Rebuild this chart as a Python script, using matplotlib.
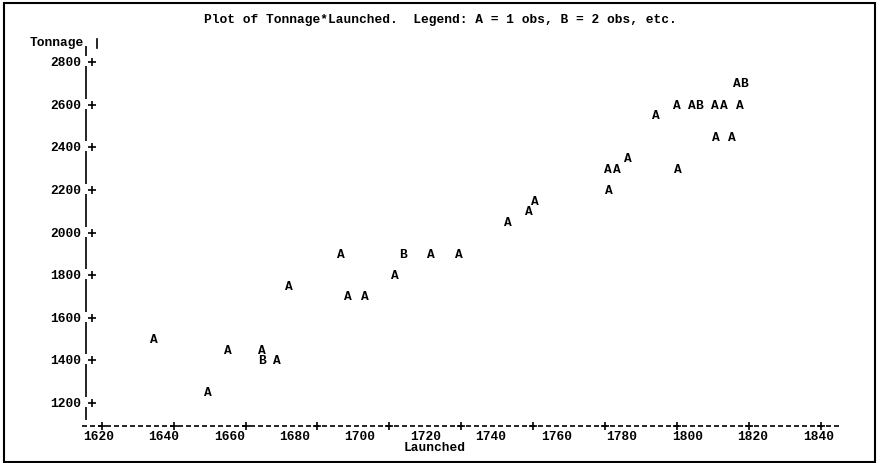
import numpy as np
import matplotlib
matplotlib.use('Agg')
import matplotlib.pyplot as plt
from matplotlib.patches import Rectangle

# Data (A = 1 obs, B = 2 obs)
launched = [1637.0, 1653.6, 1659.5, 1670.1, 1669.9, 1674.7, 1678.1, 1694.2,
            1696.4, 1701.5, 1710.7, 1713.0, 1721.7, 1730.3, 1745.2, 1751.6,
            1753.5, 1776.0, 1775.8, 1778.4, 1781.9, 1790.4, 1796.7, 1797.2,
            1801.3, 1803.7, 1808.5, 1811.1, 1816.1, 1815.1, 1817.3, 1808.6,
            1813.6]
tonnage = [1500, 1250, 1450, 1450, 1400, 1400, 1750, 1900,
           1700, 1700, 1800, 1900, 1900, 1900, 2050, 2100,
           2150, 2200, 2300, 2300, 2350, 2550, 2600, 2300,
           2600, 2600, 2600, 2600, 2600, 2700, 2700, 2450,
           2450]
symbol = ['A', 'A', 'A', 'A', 'B', 'A', 'A', 'A',
          'A', 'A', 'A', 'B', 'A', 'A', 'A', 'A',
          'A', 'A', 'A', 'A', 'A', 'A', 'A', 'A',
          'A', 'B', 'A', 'A', 'A', 'A', 'B', 'A',
          'A']

xticks = [1620, 1640, 1660, 1680, 1700, 1720, 1740, 1760, 1780, 1800, 1820, 1840]
yticks = [1200, 1400, 1600, 1800, 2000, 2200, 2400, 2600, 2800]

title = 'Plot of Tonnage*Launched.  Legend: A = 1 obs, B = 2 obs, etc.'

W, H = 881, 464
# pixel layout of the scales
PX_PER_YEAR = 3.2727
PX_PER_TON = 0.2131
X0_PX, X0_VAL = 98.3, 1620
Y0_PX, Y0_VAL = 404.0, 1200

def px_x(px):
    return X0_VAL + (px - X0_PX) / PX_PER_YEAR

def px_y(py):
    return Y0_VAL + (Y0_PX - py) / PX_PER_TON

font = dict(family='Liberation Mono', fontweight='bold', fontsize=9.3, color='black')

fig = plt.figure(figsize=(W / 100, H / 100), dpi=100)
ax = fig.add_axes([0, 0, 1, 1])
ax.set_xlim(px_x(0), px_x(W))
ax.set_ylim(px_y(H), px_y(0))
ax.axis('off')

# outer frame
fig.patches.append(Rectangle((3.7 / W, 1 - 462.5 / H), 871.0 / W, 458.8 / H,
                             transform=fig.transFigure, fill=False,
                             edgecolor='black', linewidth=1.5))

fig.text(440 / W, 1 - 20 / H, title, ha='center', va='center', **font)

# vertical axis: '|' column with gaps at tick rows
yax_x = px_x(85.7)
segs = [(px_y(47), yticks[-1] + 28)]
for lo, hi in zip(yticks[:-1], yticks[1:]):
    segs.append((hi - 19, lo + 28))
segs.append((yticks[0] - 19, px_y(421)))
for top, bot in segs:
    ax.plot([yax_x, yax_x], [bot, top], color='black', lw=1.2, solid_capstyle='butt')
ax.plot([px_x(97), px_x(97)], [px_y(49), px_y(40)], color='black', lw=1.2)
ax.plot([px_x(92.3)] * len(yticks), yticks, '+', color='black', ms=5.2, mew=1.2)
for t in yticks:
    ax.text(px_x(81.5), t, str(t), ha='right', va='center', **font)
ax.text(px_x(83.5), px_y(42.7), 'Tonnage', ha='right', va='center', **font)

# horizontal axis: dashed line with '+' ticks
xaxis_y = px_y(426.5)
ax.plot([px_x(82), px_x(840)], [xaxis_y, xaxis_y], color='black', lw=1.2,
        linestyle=(0, (3.0, 1.8)))
plus_x = np.linspace(px_x(101.7), px_x(820.7), 11)
ax.plot(plus_x, [xaxis_y] * len(plus_x), '+', color='black', ms=5.2, mew=1.2)
for t in xticks:
    ax.text(t, px_y(436.7), str(t), ha='center', va='center', **font)
ax.text(px_x(435), px_y(447.7), 'Launched', ha='center', va='center', **font)

# plot symbols
for x, y, s in zip(launched, tonnage, symbol):
    ax.text(x, y, s, ha='center', va='center', **font)

fig.savefig('out.png', dpi=100)
